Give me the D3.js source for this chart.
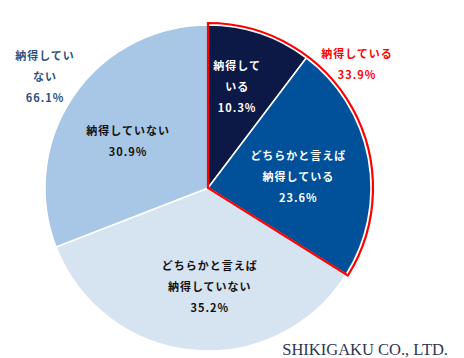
<!DOCTYPE html>
<html><head><meta charset="utf-8">
<script src="https://cdn.jsdelivr.net/npm/d3@7"></script>
<style>
html,body{margin:0;padding:0;background:#fff;}
svg{display:block;}
text{font-family:"Noto Sans CJK JP","Noto Sans",sans-serif;font-weight:bold;}
</style></head>
<body>
<svg id="chart" width="464" height="358"></svg>
<script>
// ---- data ----
const categories = ["納得している", "どちらかと言えば納得している", "どちらかと言えば納得していない", "納得していない"];
const values = [10.3, 23.6, 35.2, 30.9];
const sliceLabelLines = [["納得して", "いる"], ["どちらかと言えば", "納得している"], ["どちらかと言えば", "納得していない"], ["納得していない"]];
const groupNames = ["納得している", "納得していない"];
const groupValues = [33.9, 66.1];
const groupLabelLines = [["納得している"], ["納得してい", "ない"]];
const sourceText = "SHIKIGAKU CO., LTD.";

// ---- styles / layout ----
const colors = ["#0c1946", "#00519a", "#d6e3f1", "#a8c6e6"];
const textColors = ["#ffffff", "#ffffff", "#111111", "#111111"];
const nudges = [[-2, -9], [-6, 6], [11, 0], [1, 8]];
const cx = 208, cy = 188, R = 163, labelR = 98, lineH = 21;

const svg = d3.select("#chart");
const g = svg.append("g").attr("transform", `translate(${cx},${cy})`);

const pie = d3.pie().sort(null).value(d => d.v);
const arcs = pie(values.map((v, i) => ({v, i})));
const arc = d3.arc().innerRadius(0).outerRadius(R);

g.selectAll("path.slice").data(arcs).enter().append("path")
  .attr("class", "slice")
  .attr("d", arc)
  .attr("fill", d => colors[d.data.i])
  .attr("stroke", "#ffffff")
  .attr("stroke-width", 1.5)
  .attr("stroke-linejoin", "round");

// red outline around the "納得している" group
const gpie = pie(groupValues.map((v, i) => ({v, i})));
const redArc = d3.arc().innerRadius(0).outerRadius(R + 2);
g.append("path")
  .attr("d", redArc(gpie[0]))
  .attr("fill", "none")
  .attr("stroke", "#ff0000")
  .attr("stroke-width", 2.2)
  .attr("stroke-linejoin", "miter");

// slice labels
const labArc = d3.arc().innerRadius(labelR).outerRadius(labelR);
arcs.forEach((a, k) => {
  const i = a.data.i;
  const [x0, y0] = labArc.centroid(a);
  const lines = sliceLabelLines[i].concat([values[i].toFixed(1) + "%"]);
  const x = x0 + nudges[i][0], y = y0 + nudges[i][1];
  const top = y - (lines.length - 1) * lineH / 2;
  const t = g.append("text")
    .attr("text-anchor", "middle")
    .attr("fill", textColors[i])
    .attr("font-size", 11)
    .attr("letter-spacing", 1);
  lines.forEach((ln, j) => {
    t.append("tspan").attr("x", x).attr("y", top + j * lineH)
      .attr("dominant-baseline", "central").text(ln);
  });
});

// group labels (outside)
const groupPos = [[357, 63, "#ff0000"], [45, 76, "#2e5080"]];
groupValues.forEach((v, i) => {
  const lines = groupLabelLines[i].concat([v.toFixed(1) + "%"]);
  const [x, y, c] = groupPos[i];
  const top = y - (lines.length - 1) * lineH / 2;
  const t = svg.append("text")
    .attr("text-anchor", "middle")
    .attr("fill", c)
    .attr("font-size", 11)
    .attr("letter-spacing", 1);
  lines.forEach((ln, j) => {
    t.append("tspan").attr("x", x).attr("y", top + j * lineH)
      .attr("dominant-baseline", "central").text(ln);
  });
});

svg.append("text")
  .attr("x", 448).attr("y", 355)
  .attr("text-anchor", "end")
  .attr("fill", "#2f3654")
  .style("font-family", "'Liberation Serif','DejaVu Serif',serif")
  .style("font-weight", "normal")
  .attr("font-size", 16.5)
  .text(sourceText);
</script>
</body></html>
